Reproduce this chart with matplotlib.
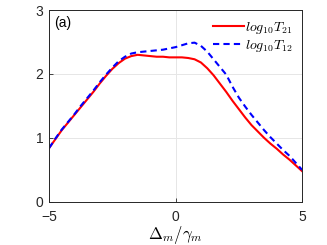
import numpy as np
import matplotlib
matplotlib.use('Agg')
import matplotlib.pyplot as plt

plt.rcParams['font.family'] = ['Liberation Sans', 'DejaVu Sans']
plt.rcParams['mathtext.fontset'] = 'cm'

# detuning Delta_m / gamma_m
x = np.arange(-5, 5.01, 0.25)

# log10 T21 (red, solid)
t21 = [0.84, 0.98, 1.12, 1.24, 1.36, 1.48, 1.60, 1.72, 1.85, 1.97, 2.08,
       2.17, 2.24, 2.28, 2.30, 2.29, 2.28, 2.27, 2.27, 2.26, 2.26, 2.26,
       2.25, 2.23, 2.18, 2.09, 1.98, 1.85, 1.72, 1.58, 1.45, 1.32, 1.20,
       1.10, 1.00, 0.91, 0.83, 0.74, 0.66, 0.57, 0.48]

# log10 T12 (blue, dashed)
t12 = [0.84, 0.99, 1.13, 1.25, 1.37, 1.50, 1.62, 1.74, 1.87, 1.99, 2.10,
       2.20, 2.27, 2.32, 2.34, 2.35, 2.36, 2.37, 2.38, 2.40, 2.42, 2.45,
       2.48, 2.49, 2.44, 2.35, 2.23, 2.11, 1.99, 1.80, 1.63, 1.49, 1.36,
       1.24, 1.12, 1.01, 0.91, 0.81, 0.72, 0.61, 0.50]

fig = plt.figure(figsize=(3.27, 2.45), dpi=100)
ax = fig.add_axes([0.150, 0.176, 0.774, 0.783])

ax.plot(x, t21, color='#ff0000', lw=1.5, label=r'$log_{10}T_{21}$')
ax.plot(x, t12, color='#0000ff', lw=1.5, ls=(0, (3, 2)), label=r'$log_{10}T_{12}$')

ax.set_xlim(-5, 5)
ax.set_ylim(0, 3)
ax.set_xticks([-5, 0, 5])
ax.set_yticks([0, 1, 2, 3])
ax.grid(True, color='#e6e6e6', lw=0.7)
ax.set_axisbelow(True)
ax.tick_params(direction='in', length=3, width=0.6, labelsize=10,
               colors='#262626')
ax.tick_params(axis='x', pad=6)
ax.tick_params(axis='y', pad=4)
for s in ax.spines.values():
    s.set_color('#262626')
    s.set_linewidth(0.7)

ax.set_xlabel(r'$\Delta_m/\gamma_m$', fontsize=12, labelpad=0)
ax.text(0.02, 0.97, '(a)', transform=ax.transAxes, fontsize=10,
        ha='left', va='top')

ax.legend(loc='upper right', frameon=False, fontsize=10, handlelength=2.2,
          handletextpad=0.1, labelspacing=0.15, borderaxespad=0.3)

fig.savefig('out.png', dpi=100)
